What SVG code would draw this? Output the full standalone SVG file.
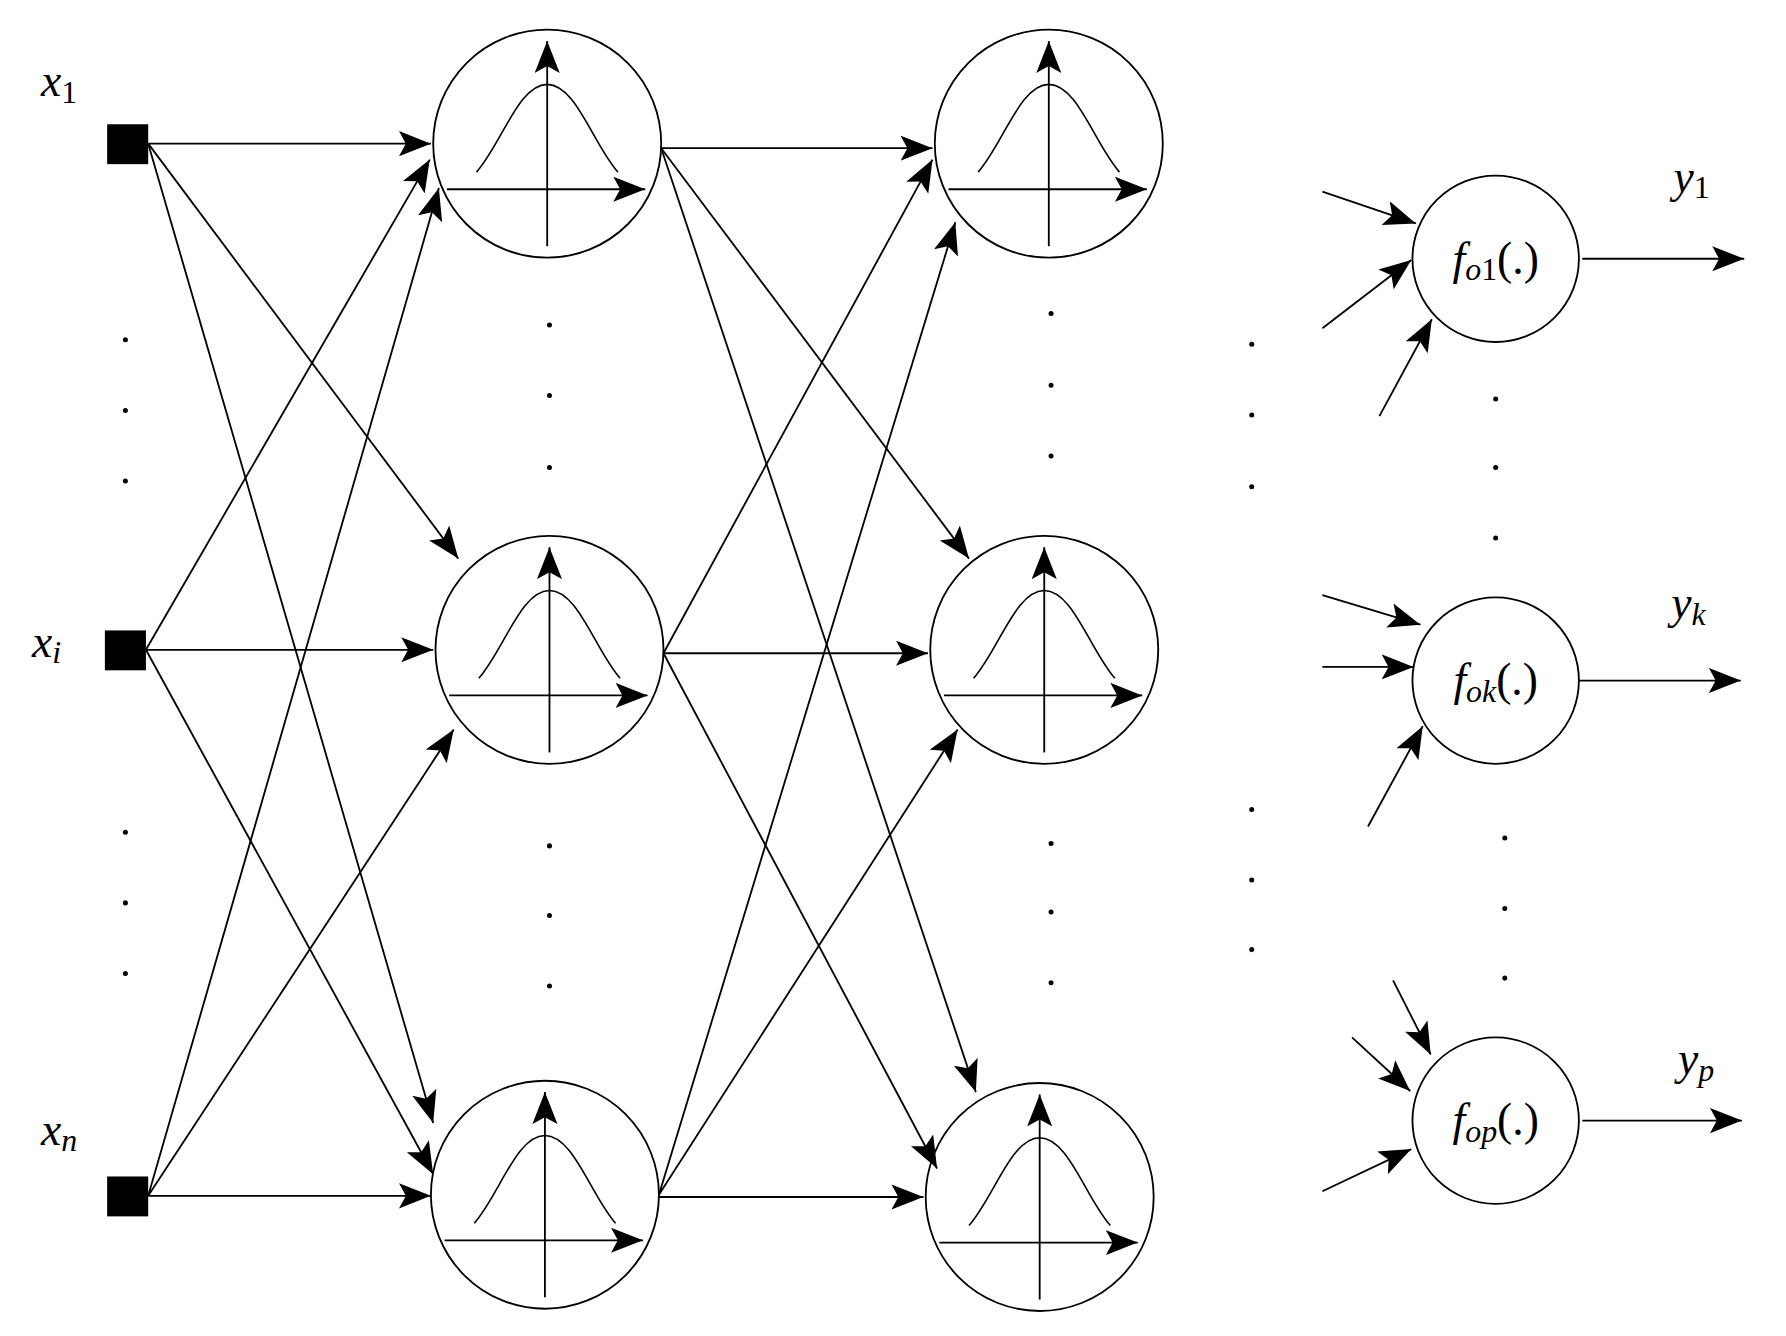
<svg xmlns="http://www.w3.org/2000/svg" width="1786" height="1336" viewBox="0 0 1786 1336">
<style>
.c{fill:none;stroke:#000;stroke-width:1.6}
.l{stroke:#000;stroke-width:1.4;fill:none}
.a{stroke:#000;stroke-width:1.6;fill:none;marker-end:url(#ah)}
.t{font-family:"Liberation Serif","Times New Roman","DejaVu Serif",serif;font-style:italic;font-size:40px}
.s{font-size:28px}
.u{font-style:normal}
.d{fill:#000}
</style>
<defs>
<marker id="ah" markerUnits="userSpaceOnUse" markerWidth="30" markerHeight="24" refX="28" refY="11" orient="auto"><path d="M0,0 L28,11 L0,22 L6,11 Z" fill="#000"/></marker>
<g id="rbf">
<circle r="100" class="c"/>
<path class="a" d="M0,90 V-90"/>
<path class="a" d="M-88,40 H86"/>
<path class="l" d="M-62,25 C-40,0 -25,-52 0,-52 C25,-52 40,0 62,25"/>
</g>
</defs>
<rect width="1786" height="1336" fill="#fff"/>
<g transform="scale(1.14)">
<g id="connectors">
<path class="a" d="M130,126 L378,126"/>
<path class="a" d="M130,126 L402,490"/>
<path class="a" d="M130,126 L380,985"/>
<path class="a" d="M128,570 L377,140"/>
<path class="a" d="M128,570 L380,570"/>
<path class="a" d="M128,570 L380,1030"/>
<path class="a" d="M130,1049 L385,165"/>
<path class="a" d="M130,1049 L398,640"/>
<path class="a" d="M130,1049 L378,1049"/>
<path class="a" d="M580,130 L818,130"/>
<path class="a" d="M580,130 L850,490"/>
<path class="a" d="M580,130 L856,958"/>
<path class="a" d="M582,573 L818,140"/>
<path class="a" d="M582,573 L814,573"/>
<path class="a" d="M582,573 L822,1025"/>
<path class="a" d="M578,1048 L838,195"/>
<path class="a" d="M578,1048 L840,640"/>
<path class="a" d="M578,1050 L810,1050"/>
<path class="a" d="M1160,168 L1242,196"/>
<path class="a" d="M1160,288 L1238,228"/>
<path class="a" d="M1210,365 L1256,280"/>
<path class="a" d="M1160,522 L1246,548"/>
<path class="a" d="M1160,585 L1240,585"/>
<path class="a" d="M1200,725 L1248,637"/>
<path class="a" d="M1222,860 L1255,925"/>
<path class="a" d="M1186,910 L1237,957"/>
<path class="a" d="M1160,1045 L1238,1008"/>
<path class="a" d="M1388,227 L1530,227"/>
<path class="a" d="M1385,597 L1527,597"/>
<path class="a" d="M1388,983 L1528,983"/>
</g>
<g id="inputs">
<rect x="94" y="109" width="36" height="35" class="d"/>
<rect x="92" y="553" width="36" height="35" class="d"/>
<rect x="94" y="1032" width="36" height="35" class="d"/>
<text x="36" y="84" class="t">x<tspan class="s u" dy="6">1</tspan></text>
<text x="28" y="576" class="t">x<tspan class="s" dy="6">i</tspan></text>
<text x="36" y="1004" class="t">x<tspan class="s" dy="6">n</tspan></text>
</g>
<g id="hidden1">
<use href="#rbf" x="480" y="126"/>
<use href="#rbf" x="482" y="570"/>
<use href="#rbf" x="478" y="1048"/>
</g>
<g id="hidden2">
<use href="#rbf" x="920" y="126"/>
<use href="#rbf" x="916" y="570"/>
<use href="#rbf" x="912" y="1050"/>
</g>
<g id="outputs">
<circle cx="1312" cy="227" r="73" class="c"/>
<circle cx="1312" cy="597" r="73" class="c"/>
<circle cx="1312" cy="983" r="73" class="c"/>
<text x="1312" y="240" class="t" font-size="36" text-anchor="middle">f<tspan class="s" dy="6">o</tspan><tspan class="s u">1</tspan><tspan dy="-6" class="u">(.)</tspan></text>
<text x="1312" y="610" class="t" font-size="36" text-anchor="middle">f<tspan class="s" dy="6">ok</tspan><tspan dy="-6" class="u">(.)</tspan></text>
<text x="1312" y="996" class="t" font-size="36" text-anchor="middle">f<tspan class="s" dy="6">op</tspan><tspan dy="-6" class="u">(.)</tspan></text>
<text x="1468" y="168" class="t">y<tspan class="s u" dy="6">1</tspan></text>
<text x="1466" y="542" class="t">y<tspan class="s" dy="6">k</tspan></text>
<text x="1472" y="942" class="t">y<tspan class="s" dy="6">p</tspan></text>
</g>
<g id="dots" class="d">
<circle cx="110" cy="298" r="2.2"/><circle cx="110" cy="360" r="2.2"/><circle cx="110" cy="422" r="2.2"/>
<circle cx="110" cy="730" r="2.2"/><circle cx="110" cy="792" r="2.2"/><circle cx="110" cy="854" r="2.2"/>
<circle cx="482" cy="285" r="2.2"/><circle cx="482" cy="347" r="2.2"/><circle cx="482" cy="410" r="2.2"/>
<circle cx="482" cy="742" r="2.2"/><circle cx="482" cy="803" r="2.2"/><circle cx="482" cy="865" r="2.2"/>
<circle cx="922" cy="275" r="2.2"/><circle cx="922" cy="338" r="2.2"/><circle cx="922" cy="400" r="2.2"/>
<circle cx="922" cy="740" r="2.2"/><circle cx="922" cy="800" r="2.2"/><circle cx="922" cy="862" r="2.2"/>
<circle cx="1098" cy="302" r="2.2"/><circle cx="1098" cy="364" r="2.2"/><circle cx="1098" cy="427" r="2.2"/>
<circle cx="1098" cy="710" r="2.2"/><circle cx="1098" cy="772" r="2.2"/><circle cx="1098" cy="833" r="2.2"/>
<circle cx="1312" cy="350" r="2.2"/><circle cx="1312" cy="410" r="2.2"/><circle cx="1312" cy="472" r="2.2"/>
<circle cx="1320" cy="735" r="2.2"/><circle cx="1320" cy="797" r="2.2"/><circle cx="1320" cy="858" r="2.2"/>
</g>
</g>
</svg>
